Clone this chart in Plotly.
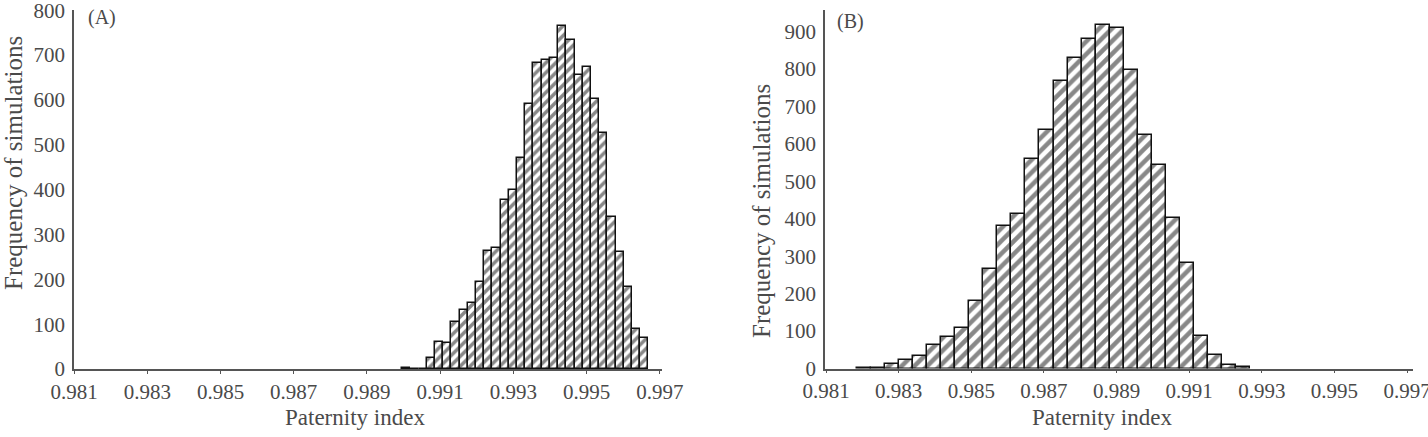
import plotly.graph_objects as go

W, H = 1428, 437

# ---- data ----
bins_a = [0.990071, 0.990295, 0.990519, 0.990743, 0.990967, 0.991192, 0.991416, 0.991640,
          0.991864, 0.992088, 0.992312, 0.992537, 0.992761, 0.992985, 0.993209, 0.993433,
          0.993657, 0.993882, 0.994106, 0.994330, 0.994554, 0.994778, 0.995002, 0.995227,
          0.995451, 0.995675, 0.995899, 0.996123, 0.996347, 0.996572]
counts_a = [3, 0, 0, 25, 61, 58, 104, 131, 147, 194, 264, 269, 377, 399, 470, 590,
            683, 689, 693, 765, 733, 656, 674, 601, 526, 340, 261, 183, 89, 69]

bins_b = [0.982038, 0.982425, 0.982813, 0.983200, 0.983587, 0.983974, 0.984361, 0.984748,
          0.985136, 0.985523, 0.985910, 0.986297, 0.986684, 0.987072, 0.987459, 0.987846,
          0.988233, 0.988620, 0.989007, 0.989395, 0.989782, 0.990169, 0.990556, 0.990943,
          0.991330, 0.991718, 0.992105, 0.992492]
counts_b = [2, 2, 13, 22, 33, 62, 83, 107, 180, 267, 380, 414, 559, 638, 768, 831,
            880, 918, 909, 798, 624, 545, 403, 283, 88, 36, 10, 3]

x_ticks = [0.981, 0.983, 0.985, 0.987, 0.989, 0.991, 0.993, 0.995, 0.997]
x_ticktext = ["0.981", "0.983", "0.985", "0.987", "0.989", "0.991", "0.993", "0.995", "0.997"]
y_ticks_a = [0, 100, 200, 300, 400, 500, 600, 700, 800]
y_ticks_b = [0, 100, 200, 300, 400, 500, 600, 700, 800, 900]

x_title = "Paternity index"
y_title = "Frequency of simulations"
panel_labels = ["(A)", "(B)"]

# ---- style ----
FONT = "Liberation Serif"
TXT = "#4a4a4a"
AX = "#555555"


def bar_marker(size):
    return dict(color="white",
                line=dict(color="#111111", width=1.5),
                pattern=dict(shape="/", fgcolor="#111111", bgcolor="white",
                             size=size, solidity=0.5))


fig = go.Figure()
fig.add_trace(go.Bar(x=bins_a, y=counts_a, xaxis="x", yaxis="y",
                     marker=bar_marker(7), showlegend=False))
fig.add_trace(go.Bar(x=bins_b, y=counts_b, xaxis="x2", yaxis="y2",
                     marker=bar_marker(9), showlegend=False))

common_x = dict(showline=True, linecolor=AX, linewidth=1.5, ticks="outside", ticklen=3,
                tickcolor=AX, tickvals=x_ticks, ticktext=x_ticktext, showgrid=False,
                zeroline=False, automargin=False, ticklabeloverflow="allow",
                tickfont=dict(family=FONT, size=21, color=TXT))
common_y = dict(showline=True, linecolor=AX, linewidth=1.5, ticks="", showgrid=False,
                zeroline=False, automargin=False, ticklabelstandoff=3,
                ticklabeloverflow="allow",
                tickfont=dict(family=FONT, size=21, color=TXT))

fig.update_layout(
    width=W, height=H,
    margin=dict(l=0, r=0, t=0, b=0),
    paper_bgcolor="white", plot_bgcolor="white",
    bargap=0,
    xaxis=dict(domain=[74 / W, 662 / W], anchor="y", range=[0.981, 0.997055], **common_x),
    yaxis=dict(domain=[68 / H, 427 / H], anchor="x", range=[0, 800.5],
               tickvals=y_ticks_a, **common_y),
    xaxis2=dict(domain=[825 / W, 1413 / W], anchor="y2", range=[0.980972, 0.997165], **common_x),
    yaxis2=dict(domain=[68.5 / H, 427 / H], anchor="x2", range=[0, 958],
                tickvals=y_ticks_b, **common_y),
)


def ann(text, x, y, size, angle=0, xanchor="center"):
    fig.add_annotation(text=text, x=x / W, y=1 - y / H, xref="paper", yref="paper",
                       showarrow=False, textangle=angle, xanchor=xanchor, yanchor="middle",
                       font=dict(family=FONT, size=size, color=TXT))


ann(y_title, 13, 163, 25, angle=-90)
ann(y_title, 761, 211, 25, angle=-90)
ann(x_title, 355, 417, 23)
ann(x_title, 1102, 417, 23)
ann(panel_labels[0], 86, 18, 20, xanchor="left")
ann(panel_labels[1], 835, 22, 20, xanchor="left")

fig.write_html("out.html")
